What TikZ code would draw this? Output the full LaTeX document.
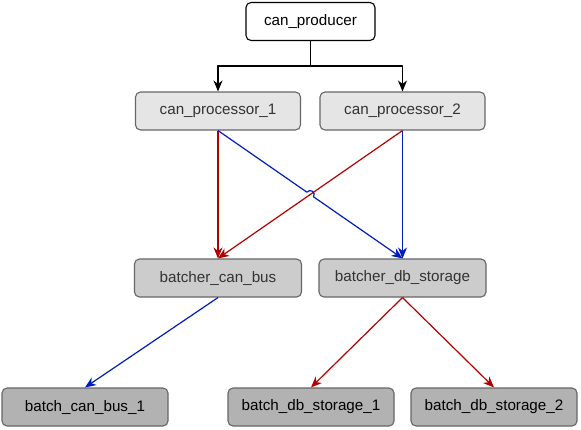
\documentclass[tikz,border=0pt]{standalone}
\usepackage{fontspec}
\setmainfont{Liberation Sans}
\usetikzlibrary{arrows.meta,calc}
\definecolor{flowblue}{HTML}{001DBC}
\definecolor{flowred}{HTML}{B20000}
\begin{document}
\begin{tikzpicture}[x=1pt,y=-1pt,line join=round,
	font=\fontsize{15.2}{18}\selectfont,
	box/.style={draw=black!60,line width=1.1pt,rounded corners=5pt,minimum height=38pt,inner sep=0pt},
	proc/.style={box,fill=black!10,minimum width=165pt,text=black!80},
	batcher/.style={box,fill=black!20,minimum width=167pt,text=black!80},
	batch/.style={box,fill=black!30,minimum width=166pt},
	link/.style={line width=1.2pt,-{Stealth[length=11pt,width=9pt,inset=3.5pt]}}]
	\useasboundingbox (0,0) rectangle (581,429);
	% top
	\node[box,draw=black,fill=white,minimum width=129pt] (prod) at (310.5,21.5) {can\_producer};
	\node[proc] (cp1) at (218,111) {can\_processor\_1};
	\node[proc] (cp2) at (402.5,111) {can\_processor\_2};
	% middle
	\node[batcher] (bcb) at (218,278) {batcher\_can\_bus};
	\node[batcher] (bdb) at (402.5,278) {batcher\_db\_storage};
	% bottom
	\node[batch] (bcb1) at (85,407) {batch\_can\_bus\_1};
	\node[batch] (bds1) at (311,407) {batch\_db\_storage\_1};
	\node[batch] (bds2) at (494,407) {batch\_db\_storage\_2};
	\draw[link] (prod.south) -- ++(0,25) -| (cp1.north);
	\draw[link] (prod.south) -- ++(0,25) -| (cp2.north);
	\coordinate (jump) at (intersection of cp1.south--bdb.north and cp2.south--bcb.north);
	\draw[link,flowred] (cp1.south) -- (bcb.north);
	\draw[link,flowred] (cp2.south) -- (bcb.north);
	\draw[link,flowblue] (cp1.south) -- ($(jump)!4pt!(cp1.south)$) arc[start angle=145,end angle=-35,radius=4pt] -- (bdb.north);
	\draw[link,flowblue] (cp2.south) -- (bdb.north);
	\draw[link,flowblue] (bcb.south) -- (bcb1.north);
	\foreach \t in {bds1,bds2}{
		\draw[link,flowred] (bdb.south) -- (\t.north);
	}
\end{tikzpicture}
\end{document}
